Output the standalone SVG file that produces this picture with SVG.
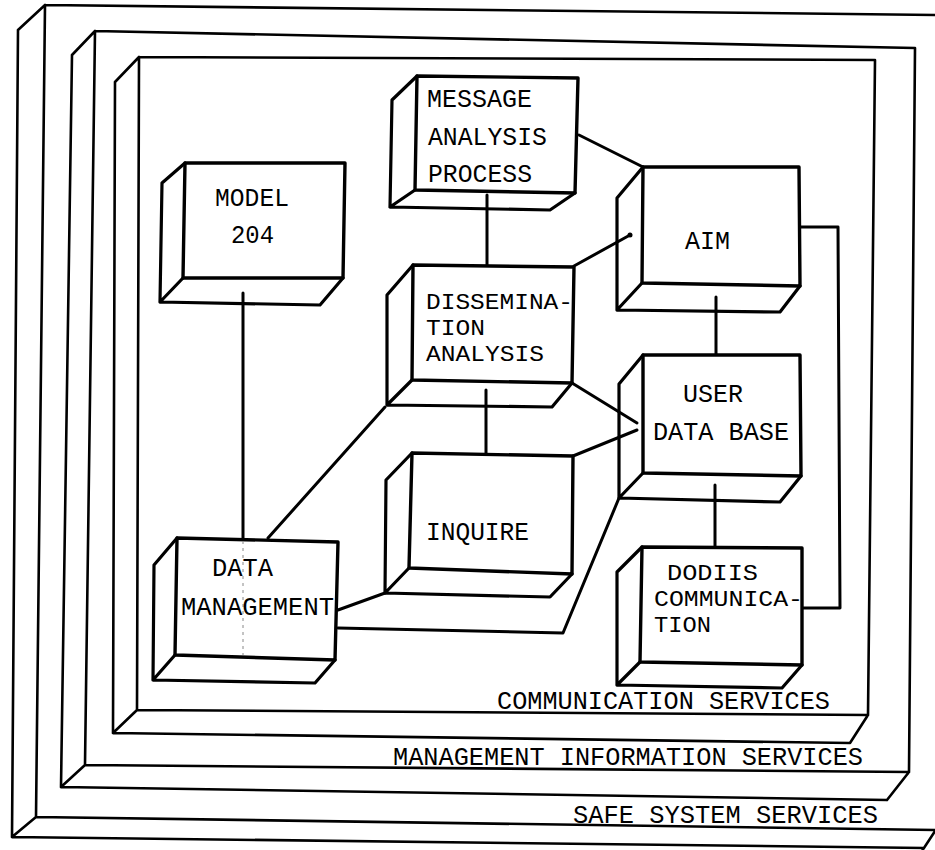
<svg xmlns="http://www.w3.org/2000/svg" width="935" height="850" viewBox="0 0 935 850">
<style>
.frame{fill:none;stroke:#000;stroke-width:2.6;stroke-linejoin:round;stroke-linecap:round}
.box{fill:none;stroke:#000;stroke-width:3.2;stroke-linejoin:round;stroke-linecap:round}
.front{fill:#fff;stroke:#000;stroke-width:3.4;stroke-linejoin:round}
.conn{fill:none;stroke:#000;stroke-width:3;stroke-linejoin:round;stroke-linecap:round}
.ghost{fill:none;stroke:#888;stroke-width:1;stroke-dasharray:3 4}
text{font-family:"Liberation Mono","DejaVu Sans Mono",monospace;font-size:26px;fill:#000}
text.tight{font-size:22.5px}
</style>
<rect width="935" height="850" fill="#fff"/>
<g id="frame-safe">
<path class="frame" d="M45,5 L937,15 M18,30 L45,5 M18,30 L12,837 M45,5 L36,817 M12,837 L36,817 M36,817 L937,830 M12,837 L924,848 M937,828 L922,851"/>
<text x="573" y="823" textLength="305" lengthAdjust="spacingAndGlyphs">SAFE SYSTEM SERVICES</text>
</g>
<g id="frame-mis">
<path class="frame" d="M95,31 L915,48 M72,55 L95,31 M72,55 L61,787 M95,31 L85,765 M915,48 L909,772 M85,765 L909,772 M61,787 L85,765 M61,787 L887,800 M909,772 L887,800"/>
<text x="393" y="765" textLength="470" lengthAdjust="spacingAndGlyphs">MANAGEMENT INFORMATION SERVICES</text>
</g>
<g id="frame-comm">
<path class="frame" d="M139,57 L875,60 M115,82 L139,57 M115,82 L113,733 M139,57 L137,710 M875,60 L868,715 M137,710 L868,715 M113,733 L137,710 M113,733 L850,743 M868,715 L850,743"/>
<text x="497" y="709" textLength="333" lengthAdjust="spacingAndGlyphs">COMMUNICATION SERVICES</text>
</g>
<g id="connectors">
<path class="conn" d="M243,293 L243,538"/>
<path class="conn" d="M487,195 L487,265"/>
<path class="conn" d="M579,135 L643,167"/>
<path class="conn" d="M574,266 L630,235"/>
<circle cx="630" cy="235" r="2.5" fill="#000"/>
<path class="conn" d="M716,297 L716,355"/>
<path class="conn" d="M572,383 L637,423"/>
<path class="conn" d="M573,456 L637,430"/>
<path class="conn" d="M486,390 L486,453"/>
<path class="conn" d="M385,407 L268,538"/>
<path class="conn" d="M338,610 L385,593"/>
<path class="conn" d="M715,485 L715,547"/>
<path class="conn" d="M338,628 L563,633 L619,498"/>
<path class="conn" d="M800,227 L838,227 L840,608 L802,608"/>
</g>
<g id="model-204">
<path class="box" d="M185,163 L162,183 L160,302 L320,305 L343,278 M160,302 L183,278"/>
<path class="front" d="M185,163 L345,163 L343,278 L183,278 Z"/>
<text x="215" y="206" textLength="74" lengthAdjust="spacingAndGlyphs">MODEL</text>
<text x="231" y="243" textLength="43" lengthAdjust="spacingAndGlyphs">204</text>
</g>
<g id="message-analysis-process">
<path class="box" d="M417,76 L392,100 L390,207 L550,210 L575,193 M390,207 L415,190"/>
<path class="front" d="M417,76 L578,78 L575,193 L415,190 Z"/>
<text x="427" y="107" textLength="105" lengthAdjust="spacingAndGlyphs">MESSAGE</text>
<text x="428" y="145" textLength="119" lengthAdjust="spacingAndGlyphs">ANALYSIS</text>
<text x="428" y="182" textLength="104" lengthAdjust="spacingAndGlyphs">PROCESS</text>
</g>
<g id="aim">
<path class="box" d="M643,167 L617,198 L617,310 L780,312 L800,286 M617,310 L642,283"/>
<path class="front" d="M643,167 L799,167 L800,286 L642,283 Z"/>
<text x="685" y="249" textLength="45" lengthAdjust="spacingAndGlyphs">AIM</text>
</g>
<g id="dissemination-analysis">
<path class="box" d="M413,265 L387,295 L387,405 L552,407 L572,383 M387,405 L412,380"/>
<path class="front" d="M413,265 L574,267 L572,383 L412,380 Z"/>
<text class="tight" x="426" y="309" textLength="147" lengthAdjust="spacingAndGlyphs">DISSEMINA-</text>
<text class="tight" x="426" y="335" textLength="59" lengthAdjust="spacingAndGlyphs">TION</text>
<text class="tight" x="426" y="361" textLength="118" lengthAdjust="spacingAndGlyphs">ANALYSIS</text>
</g>
<g id="user-data-base">
<path class="box" d="M643,355 L619,384 L619,498 L780,502 L801,476 M619,498 L643,473"/>
<path class="front" d="M643,355 L800,355 L801,476 L643,473 Z"/>
<text x="683" y="402" textLength="60" lengthAdjust="spacingAndGlyphs">USER</text>
<text x="653" y="440" textLength="136" lengthAdjust="spacingAndGlyphs">DATA BASE</text>
</g>
<g id="inquire">
<path class="box" d="M412,453 L386,480 L385,593 L550,597 L572,574 M385,593 L409,568"/>
<path class="front" d="M412,453 L573,456 L572,574 L409,568 Z"/>
<text x="426" y="540" textLength="103" lengthAdjust="spacingAndGlyphs">INQUIRE</text>
</g>
<g id="data-management">
<path class="box" d="M177,538 L154,565 L153,680 L315,683 L335,660 M153,680 L175,655"/>
<path class="front" d="M177,538 L338,542 L335,660 L175,655 Z"/>
<path class="ghost" d="M243,541 L243,655"/>
<text x="212" y="576" textLength="61" lengthAdjust="spacingAndGlyphs">DATA</text>
<text x="181" y="615" textLength="153" lengthAdjust="spacingAndGlyphs">MANAGEMENT</text>
</g>
<g id="dodiis-communication">
<path class="box" d="M642,547 L617,572 L617,685 L782,688 L802,665 M617,685 L640,662"/>
<path class="front" d="M642,547 L802,548 L802,665 L640,662 Z"/>
<text class="tight" x="667" y="580" textLength="91" lengthAdjust="spacingAndGlyphs">DODIIS</text>
<text class="tight" x="654" y="606" textLength="149" lengthAdjust="spacingAndGlyphs">COMMUNICA-</text>
<text class="tight" x="654" y="632" textLength="57" lengthAdjust="spacingAndGlyphs">TION</text>
</g>
</svg>
